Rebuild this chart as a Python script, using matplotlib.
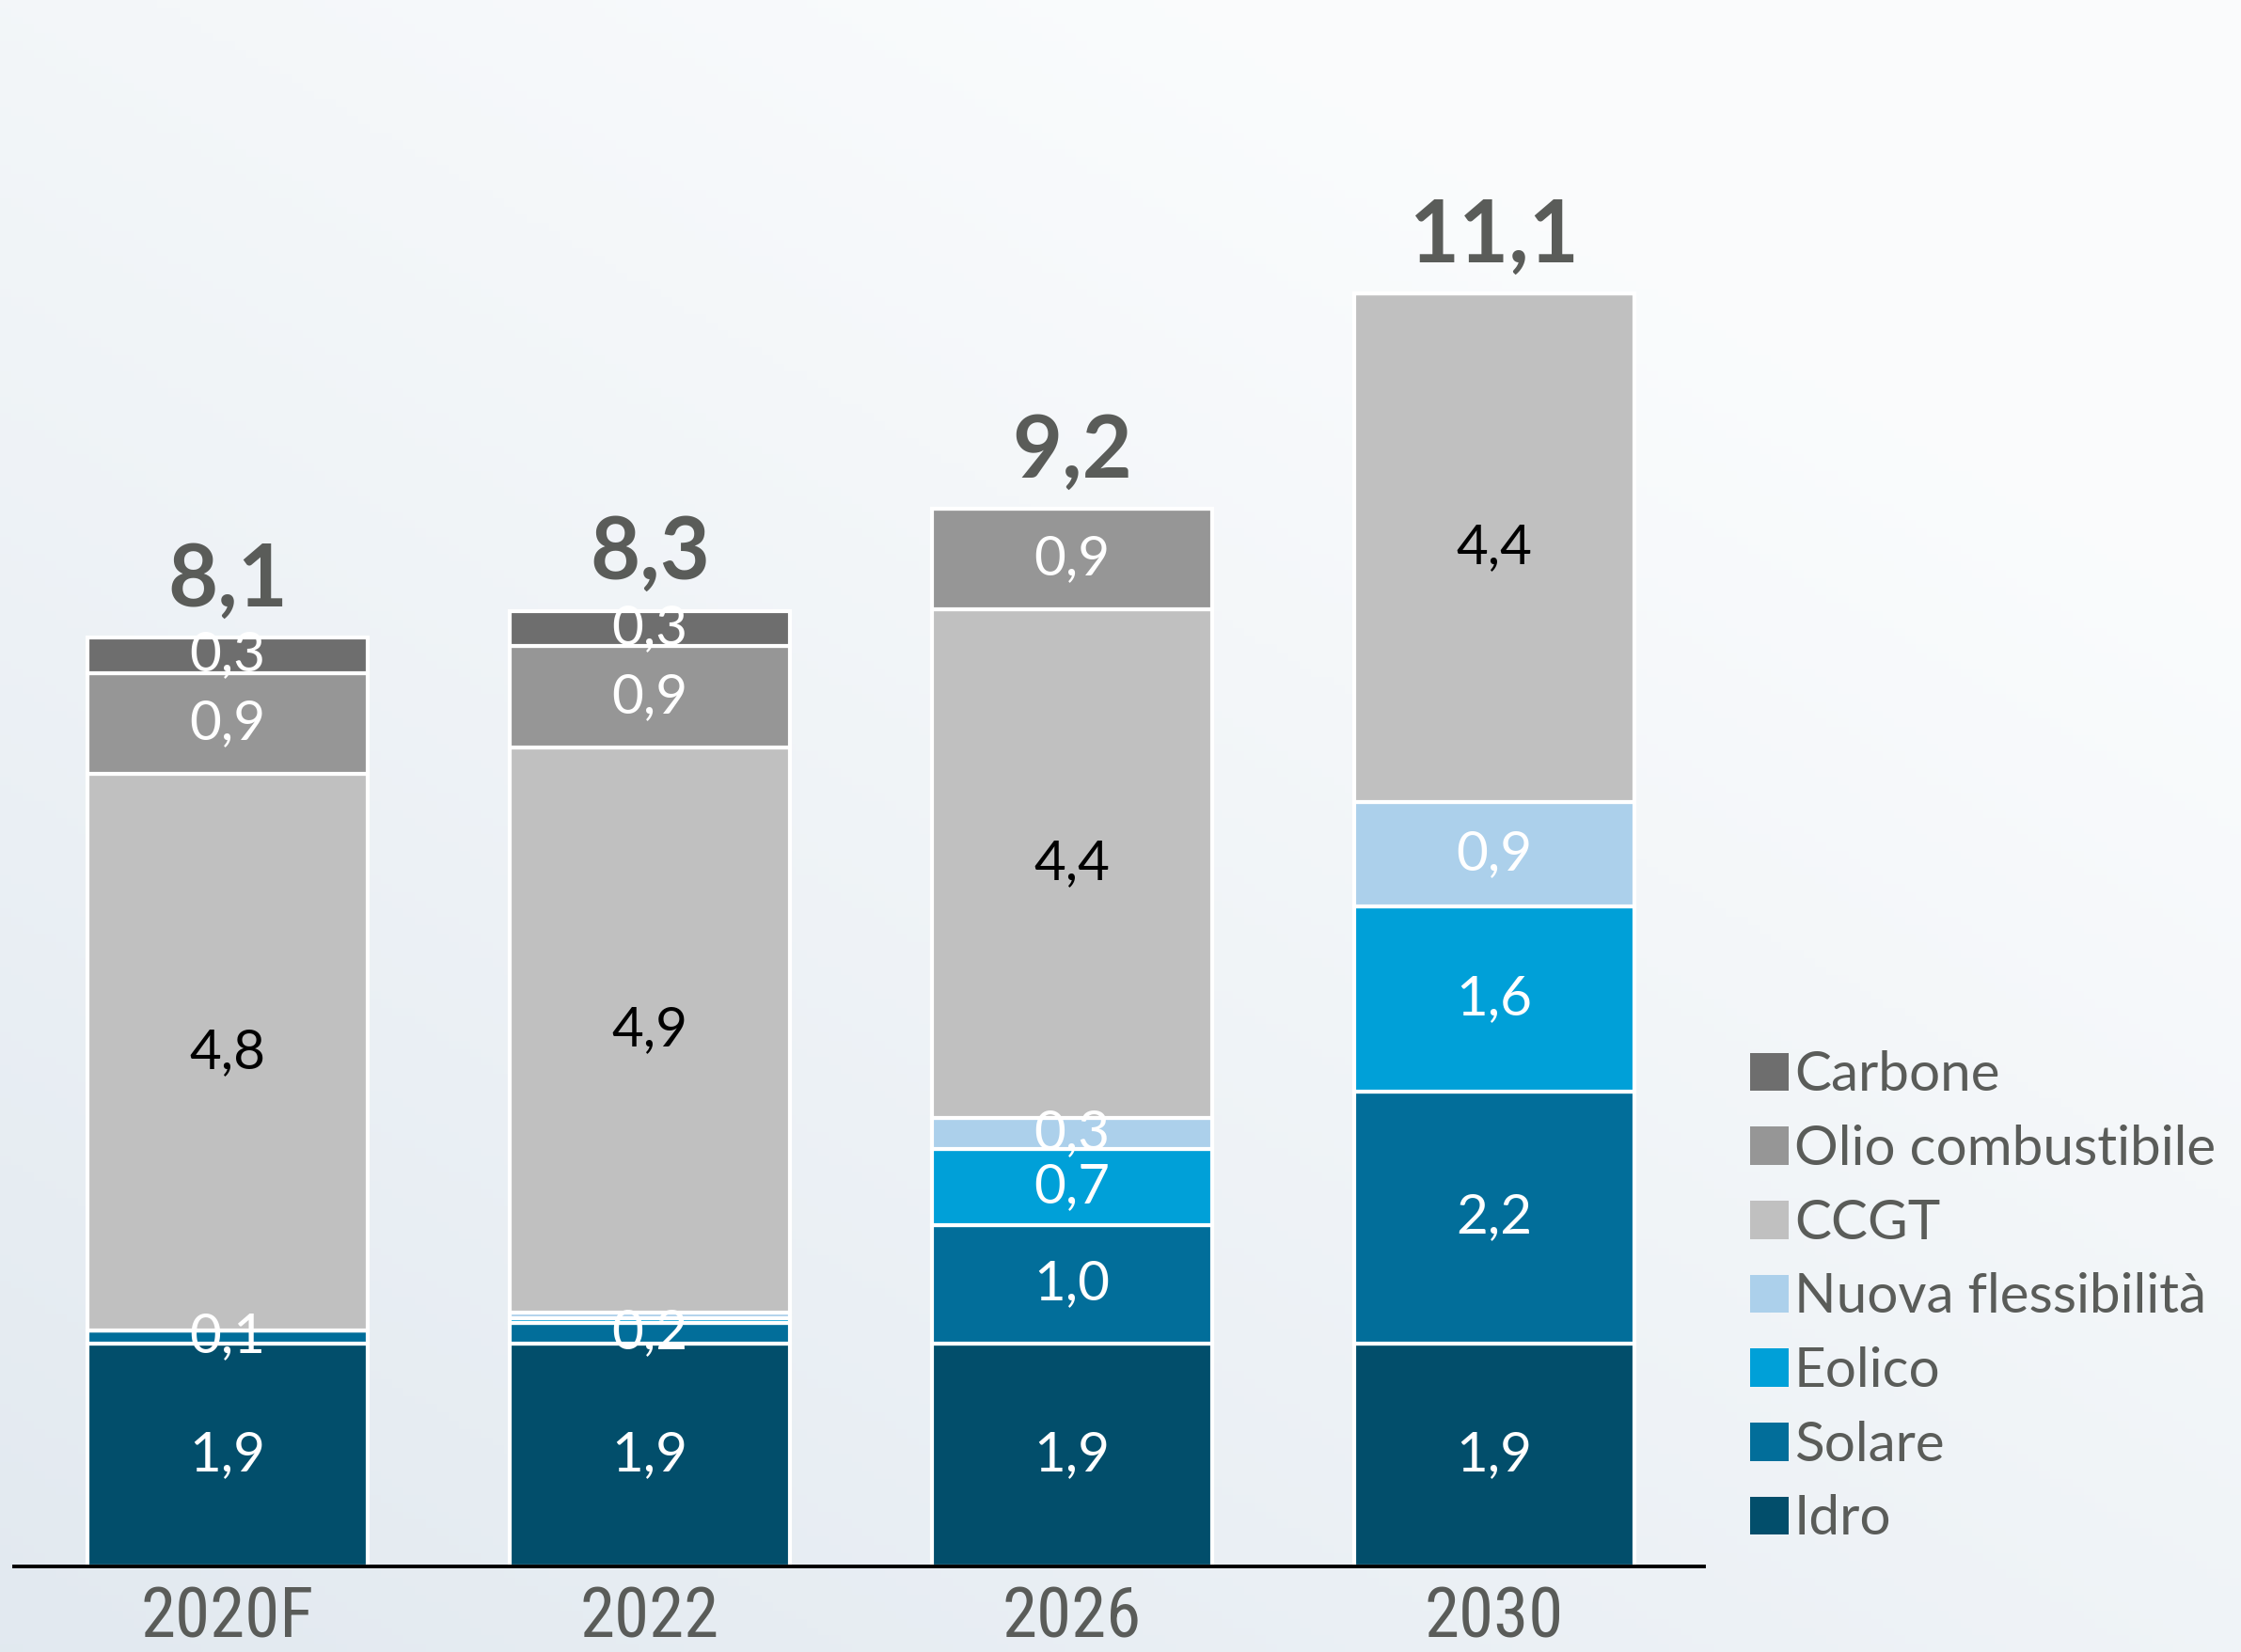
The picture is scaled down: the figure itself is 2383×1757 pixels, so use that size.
import numpy as np
import matplotlib
matplotlib.use("Agg")
import matplotlib.pyplot as plt
from matplotlib import font_manager
from matplotlib.patches import Patch

# Capacità per fonte (GW)
anni = ["2020F", "2022", "2026", "2030"]
idro = [1.94, 1.94, 1.94, 1.94]
solare = [0.11, 0.18, 1.03, 2.19]
eolico = [0.0, 0.04, 0.66, 1.61]
nuova_flex = [0.0, 0.05, 0.27, 0.91]
ccgt = [4.84, 4.91, 4.42, 4.42]
olio = [0.88, 0.88, 0.88, 0.0]
carbone = [0.31, 0.31, 0.0, 0.0]

serie = [
    ("Idro", idro, "#024e6b", "white"),
    ("Solare", solare, "#026e9a", "white"),
    ("Eolico", eolico, "#00a0d8", "white"),
    ("Nuova flessibilità", nuova_flex, "#acd0eb", "white"),
    ("CCGT", ccgt, "#c0c0c0", "black"),
    ("Olio combustibile", olio, "#969696", "white"),
    ("Carbone", carbone, "#6e6e6e", "white"),
]

grigio = "#5a5c59"

# font condensato per gli anni, se disponibile
nomi = {f.name for f in font_manager.fontManager.ttflist}
narrow = "DejaVu Sans"
for cand in ["Liberation Sans Narrow", "DejaVu Sans Condensed", "Roboto Condensed", "Open Sans Condensed"]:
    if cand in nomi:
        narrow = cand
        break

plt.rcParams["font.family"] = ["Lato", "DejaVu Sans"]

fig = plt.figure(figsize=(23.83, 17.57), dpi=100)

# sfondo sfumato
bg = fig.add_axes([0, 0, 1, 1], zorder=-10)
xx, yy = np.meshgrid(np.linspace(0, 1, 200), np.linspace(0, 1, 200))
t = np.clip(0.55 * xx + 0.7 * yy, 0, 1)
c0 = np.array([0.886, 0.914, 0.941])
c1 = np.array([0.982, 0.988, 0.992])
img = c0[None, None, :] * (1 - t[..., None]) + c1[None, None, :] * t[..., None]
bg.imshow(img, origin="lower", aspect="auto", extent=[0, 1, 0, 1])
bg.axis("off")

ax = fig.add_axes([0.0063, 0.0518, 0.7541, 0.905])
ax.patch.set_alpha(0)

x = np.arange(len(anni))
w = 0.664
bottom = np.zeros(len(anni))
for nome, vals, col, tcol in serie:
    vals = np.array(vals)
    ax.bar(x, vals, w, bottom=bottom, color=col, edgecolor="white", linewidth=3, label=nome)
    for i, v in enumerate(vals):
        if v >= 0.1:
            ax.text(x[i], bottom[i] + v / 2, f"{v:.1f}".replace(".", ","), ha="center",
                    va="center", fontsize=42, color=tcol)
    bottom += vals

for i, tot in enumerate(bottom):
    ax.annotate(f"{tot:.1f}".replace(".", ","), (x[i], tot), xytext=(0, 24),
                textcoords="offset points", ha="center", va="baseline",
                fontsize=66, fontweight="bold", color=grigio)

ax.set_xlim(-0.5056, 3.497)
ax.set_ylim(0, 13)
ax.set_xticks(x)
ax.set_xticklabels(anni, fontsize=54, color=grigio, family=narrow)
ax.tick_params(axis="x", length=0, pad=14)
ax.set_yticks([])
for s in ["top", "left", "right"]:
    ax.spines[s].set_visible(False)
ax.spines["bottom"].set_linewidth(2.8)
ax.spines["bottom"].set_color("black")

handles = [Patch(facecolor=col, label=nome) for nome, _, col, _ in serie[::-1]]
fig.legend(handles=handles, loc="upper left", bbox_to_anchor=(0.781, 0.364),
           frameon=False, fontsize=42, labelcolor=grigio, handlelength=0.7,
           handleheight=0.7, handletextpad=0.1, labelspacing=0.44,
           borderpad=0, borderaxespad=0)

fig.savefig("out.png", dpi=100)
